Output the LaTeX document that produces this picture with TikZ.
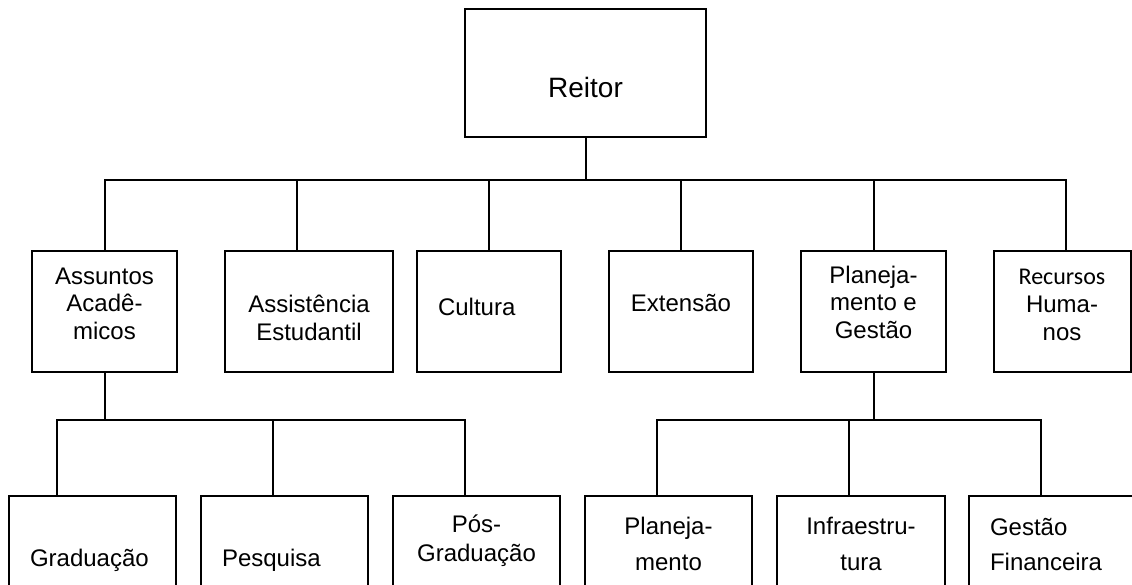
\documentclass[tikz,border=0pt]{standalone}
\usepackage{fontspec}
\setmainfont{Liberation Sans}
\newfontfamily\calibri{Carlito}
\usepackage{tikz}
\usetikzlibrary{positioning}

\begin{document}
\begin{tikzpicture}[x=1pt, y=-1pt,
    unit/.style={rectangle, draw, line width=2pt, inner sep=0pt, minimum height=121pt,
        align=center, font=\fontsize{24}{27.5}\selectfont},
    lunit/.style={unit, align=left, inner xsep=21pt},
    link/.style={line width=2pt}
]
    \useasboundingbox (0,0) rectangle (1132,585);

    % top
    \node[unit, minimum width=241pt, minimum height=128pt, text height=89pt, text depth=39pt,
        font=\fontsize{28}{32}\selectfont] (reitor) at (585.5,73) {Reitor};

    % first level (text height = last baseline below the top edge)
    \node[unit, minimum width=145pt, text height=88pt, text depth=33pt] (assuntos) at (104.5,311.5) {Assuntos\\Acadê-\\micos};
    \node[unit, minimum width=168pt, text height=89pt, text depth=32pt] (assist) at (309,311.5) {Assistência\\Estudantil};
    \node[lunit, text width=102pt, text height=64pt, text depth=57pt] (cultura) at (489,311.5) {Cultura};
    \node[unit, minimum width=144pt, text height=61pt, text depth=60pt] (extensao) at (681,311.5) {Extensão};
    \node[unit, minimum width=145pt, text height=87pt, text depth=34pt] (planej) at (873.5,311.5) {Planeja-\\mento e\\Gestão};
    \node[unit, minimum width=137pt, text height=89pt, text depth=32pt] (recursos) at (1062,311.5) {{\calibri Recursos}\\Huma-\\nos};

    % second level
    \node[lunit, text width=125pt, text height=70pt, text depth=51pt] (grad) at (92.5,556.5) {Graduação};
    \node[lunit, text width=125pt, text height=70pt, text depth=51pt] (pesq) at (284.5,556.5) {Pesquisa};
    \node[unit, minimum width=167pt, text height=65pt, text depth=56pt] (posgrad) at (476.5,556.5) {Pós-\\[1.5pt]Graduação};
    \node[unit, minimum width=167pt, text height=74pt, text depth=47pt] (planejam) at (668.5,556.5) {Planeja-\\[8pt]mento};
    \node[unit, minimum width=168pt, text height=74pt, text depth=47pt] (infra) at (861,556.5) {Infraestru-\\[8pt]tura};
    \node[lunit, text width=125pt, text height=39pt, text depth=82pt] (financ) at (1052.5,556.5) {Gestão\\[8pt]Financeira};

    \coordinate (hub) at (585.5,180);
    \coordinate (acad) at (104.5,420);
    \coordinate (gest) at (873.5,420);

    \draw[link] (reitor.south) -- (hub);
    \foreach \n in {assuntos,cultura,extensao,planej}
        \draw[link] (hub) -| (\n.north);
    \draw[link] (hub) -| ([xshift=-12pt]assist.north);
    \draw[link] (hub) -| ([xshift=4pt]recursos.north);

    \draw[link] (assuntos.south) -- (acad);
    \draw[link] (acad) -| ([xshift=-35.5pt]grad.north);
    \draw[link] (acad) -| ([xshift=-11.5pt]pesq.north);
    \draw[link] (acad) -| ([xshift=-11.5pt]posgrad.north);

    \draw[link] (planej.south) -- (gest);
    \draw[link] (gest) -| ([xshift=-11.5pt]planejam.north);
    \draw[link] (gest) -| ([xshift=-12pt]infra.north);
    \draw[link] (gest) -| ([xshift=-11.5pt]financ.north);
\end{tikzpicture}
\end{document}
